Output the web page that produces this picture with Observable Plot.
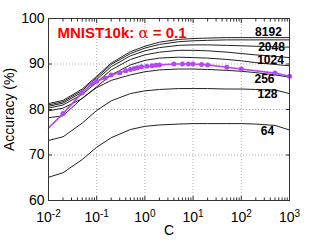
<!DOCTYPE html>
<html><head><meta charset="utf-8">
<script src="https://cdn.jsdelivr.net/npm/d3@7"></script>
<script src="https://cdn.jsdelivr.net/npm/@observablehq/plot@0.6"></script>
<style>body{margin:0;background:#fff} svg{display:block}</style>
</head><body><div id="chart"></div>
<script>
// ---- data ----
const C = [0.01,0.02,0.05,0.1,0.2,0.5,1,2,5,10,20,50,100,200,500,1000];
const acc8192 = [81.3,82.0,84.5,87.3,90.2,92.7,93.9,94.8,95.4,95.6,95.7,95.8,95.8,95.8,95.8,95.8];
const acc4096 = [81.0,81.7,84.2,87.0,89.9,92.3,93.5,94.3,94.9,95.1,95.2,95.3,95.3,95.3,95.3,95.3];
const acc2048 = [80.7,81.4,83.8,86.6,89.4,91.8,92.9,93.6,94.1,94.2,94.2,94.1,94.0,93.9,93.8,93.7];
const acc1024 = [80.3,81.0,83.3,86.0,88.7,91.0,92.0,92.6,93.0,93.0,92.9,92.6,92.3,92.0,91.7,91.4];
const acc512  = [79.7,80.3,82.4,85.0,87.6,89.8,90.8,91.3,91.5,91.4,91.3,91.0,90.7,90.3,89.9,89.6];
const acc256  = [78.2,78.6,82.5,84.8,86.4,87.6,88.3,88.7,88.9,88.9,88.8,88.6,88.4,88.1,87.6,87.1];
const acc128  = [73.2,74.0,77.0,79.8,81.9,83.5,84.1,84.4,84.6,84.6,84.6,84.5,84.5,84.4,84.3,83.5];
const acc64   = [65.1,66.1,69.0,71.7,73.8,75.6,76.3,76.6,76.8,76.9,76.9,76.9,76.9,76.8,76.5,75.5];
const seriesNames = ["8192","4096","2048","1024","512","256","128","64"];
const seriesAcc = [acc8192,acc4096,acc2048,acc1024,acc512,acc256,acc128,acc64];

const alphaC   = [0.01,0.02,0.05,0.08,0.1,0.15,0.2,0.3,0.4,0.5,0.6,0.7,0.85,1.1,1.4,1.7,2,4,6,8,10,15,20,50,100,500,1000];
const alphaAcc = [75.9,79.1,83.7,85.6,86.2,86.9,87.6,88.1,88.5,88.8,89.0,89.2,89.4,89.5,89.6,89.7,89.8,90.0,90.0,90.0,90.0,89.9,89.8,89.3,88.9,88.0,87.3];

const labelText = ["8192","2048","1024","256","128","64"];
const labelC    = [366,424,404,303,350,350];
const labelAcc  = [97.0,93.8,90.8,86.6,83.3,75.2];

const titleText = "MNIST10k: α = 0.1";
const titleC = 0.0154, titleAcc = 96.8;

const xTicks = [0.01,0.1,1,10,100,1000];
const xTickExp = ["-2","-1","0","1","2","3"];
const xMinor = [];
for (let e = -2; e < 3; e++) for (let m = 2; m <= 9; m++) xMinor.push(m * Math.pow(10, e));
const yTicks = [60,70,80,90,100];

// ---- tables ----
const lineRows = seriesNames.flatMap((k, i) => C.map((c, j) => ({k, C: c, acc: seriesAcc[i][j]})));
const alphaRows = alphaC.map((c, i) => ({C: c, acc: alphaAcc[i]}));
const labelRows = labelText.map((t, i) => ({t, C: labelC[i], acc: labelAcc[i]}));

const purple = "#b648f2";
const grid = {stroke: "#b0b0b0", strokeOpacity: 1, strokeDasharray: "1,2"};

const plot = Plot.plot({
  width: 319, height: 240,
  marginLeft: 48, marginRight: 30, marginTop: 18, marginBottom: 40,
  style: {fontFamily: "'Liberation Sans', Arial, sans-serif", background: "#fff", color: "#000"},
  x: {type: "log", domain: [0.01, 1000]},
  y: {domain: [60, 100]},
  marks: [
    Plot.gridX(xTicks.slice(1, -1), grid),
    Plot.gridY(yTicks.slice(1, -1), grid),
    Plot.axisX(xMinor, {anchor: "bottom", tickSize: -2.5, tickFormat: () => "", label: null, stroke: "#333"}),
    Plot.axisX(xMinor, {anchor: "top", tickSize: -2.5, tickFormat: () => "", label: null, stroke: "#333"}),
    Plot.axisX(xTicks, {anchor: "bottom", tickSize: -4, tickFormat: () => "", label: null, stroke: "#333"}),
    Plot.axisX(xTicks, {anchor: "top", tickSize: -4, tickFormat: () => "", label: null, stroke: "#333"}),
    Plot.axisY(yTicks, {anchor: "left", tickSize: -4, tickFormat: () => "", label: null, stroke: "#333"}),
    Plot.axisY(yTicks, {anchor: "right", tickSize: -4, tickFormat: () => "", label: null, stroke: "#333"}),
    Plot.axisX(xTicks, {anchor: "bottom", tickSize: 0, tickPadding: 12, fontSize: 14,
      tickFormat: d => "10^" + xTickExp[xTicks.indexOf(d)], label: "C", labelAnchor: "center", labelOffset: 34, labelArrow: "none"}),
    Plot.axisY(yTicks, {anchor: "left", tickSize: 0, tickPadding: 4, fontSize: 14,
      label: "Accuracy (%)", labelAnchor: "center", labelOffset: 44, labelArrow: "none"}),
    Plot.line(lineRows, {x: "C", y: "acc", z: "k", stroke: "#222", strokeWidth: 1}),
    Plot.line(alphaRows, {x: "C", y: "acc", stroke: purple, strokeWidth: 1.6}),
    Plot.dot(alphaRows.slice(1), {x: "C", y: "acc", fill: purple, r: 2.5}),
    Plot.text(labelRows, {x: "C", y: "acc", text: "t", fontSize: 12, fontWeight: "bold", fill: "#000"}),
    Plot.text([titleText], {x: () => titleC, y: () => titleAcc, text: d => d, textAnchor: "start",
      fontSize: 15, fontWeight: "bold", fill: "#ff0000"}),
    Plot.frame({stroke: "#333"})
  ]
});
document.getElementById("chart").appendChild(plot);

// superscript exponents on x tick labels
d3.select(plot).selectAll("text").each(function () {
  const t = this.textContent;
  if (!t || !t.startsWith("10^")) return;
  const e = t.slice(3);
  this.textContent = "";
  const s = d3.select(this);
  s.append("tspan").text("10");
  s.append("tspan").attr("dy", "-0.5em").attr("font-size", 10).text(e);
});
// alpha glyph in normal weight like the original
d3.select(plot).selectAll("text").each(function () {
  if (this.textContent !== titleText) return;
  const [a, b] = titleText.split("α");
  this.textContent = "";
  const s = d3.select(this);
  s.append("tspan").text(a);
  s.append("tspan").attr("font-weight", "normal").attr("font-family", "'DejaVu Serif', serif").text("α");
  s.append("tspan").text(b);
});
</script>
</body></html>
